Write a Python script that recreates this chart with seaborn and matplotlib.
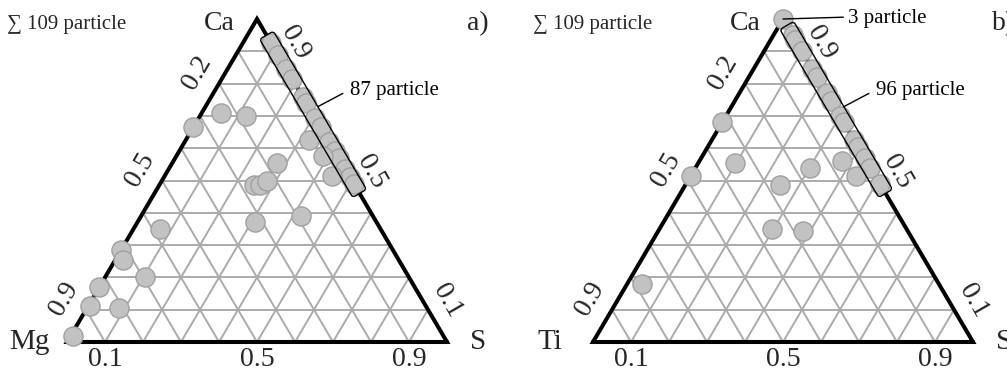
import numpy as np
import pandas as pd
import seaborn as sns
import matplotlib.pyplot as plt
from matplotlib.patches import FancyBboxPatch
from matplotlib.transforms import Affine2D

# ---- composition data (mole fractions) ----
# panel a): Ca - Mg - S
a_ca = [0.925, 0.89, 0.845, 0.815, 0.76, 0.74, 0.695, 0.665, 0.62, 0.59, 0.57, 0.535, 0.51, 0.49,
        0.625, 0.575, 0.515,
        0.71, 0.70, 0.665, 0.555, 0.485, 0.485, 0.50, 0.37, 0.39,
        0.35, 0.285, 0.255, 0.20, 0.17, 0.11, 0.105, 0.02]
a_mg = [0.0, 0.0, 0.0, 0.0, 0.0, 0.0, 0.0, 0.0, 0.0, 0.0, 0.0, 0.0, 0.0, 0.0,
        0.05, 0.04, 0.045,
        0.24, 0.18, 0.335, 0.17, 0.265, 0.25, 0.225, 0.32, 0.19,
        0.58, 0.715, 0.725, 0.695, 0.83, 0.885, 0.81, 0.975]
a_s = [0.075, 0.11, 0.155, 0.185, 0.24, 0.26, 0.305, 0.335, 0.38, 0.41, 0.43, 0.465, 0.49, 0.51,
       0.325, 0.385, 0.44,
       0.05, 0.12, 0.0, 0.275, 0.25, 0.265, 0.275, 0.31, 0.42,
       0.07, 0.0, 0.02, 0.105, 0.0, 0.005, 0.085, 0.005]

# panel b): Ca - Ti - S
b_ca = [1.0,
        0.95, 0.935, 0.90, 0.845, 0.82, 0.77, 0.745, 0.70, 0.68, 0.625, 0.605, 0.57, 0.54, 0.49,
        0.56, 0.515,
        0.68, 0.515, 0.18, 0.555, 0.485, 0.54, 0.35, 0.345]
b_ti = [0.0,
        0.0, 0.0, 0.0, 0.0, 0.0, 0.0, 0.0, 0.0, 0.0, 0.0, 0.0, 0.0, 0.0, 0.0,
        0.065, 0.05,
        0.32, 0.485, 0.78, 0.35, 0.265, 0.16, 0.355, 0.275]
b_s = [0.0,
       0.05, 0.065, 0.10, 0.155, 0.18, 0.23, 0.255, 0.30, 0.32, 0.375, 0.395, 0.43, 0.46, 0.51,
       0.375, 0.435,
       0.0, 0.0, 0.04, 0.095, 0.25, 0.30, 0.295, 0.38]

left_ticks = [0.2, 0.5, 0.9]     # second component, along the left edge
right_ticks = [0.9, 0.5, 0.1]    # Ca, along the right edge
bottom_ticks = [0.1, 0.5, 0.9]   # S, along the base

sns.set_theme(style="white")
plt.rcParams["font.family"] = ["Liberation Serif", "DejaVu Serif"]

W, HP = 1007, 372
fig = plt.figure(figsize=(W / 100, HP / 100), dpi=100)

H = 323 / 380           # triangle height in base units
L = np.hypot(0.5, H)    # side length of the slanted edges
EDGE_ANGLE = np.degrees(np.arctan2(-H, 0.5))
d_vec = np.array([0.5, -H]) / L      # apex -> S corner
n_vec = np.array([H, 0.5]) / L       # outward normal of the right edge


def to_xy(ca, s):
    ca = np.asarray(ca, float)
    s = np.asarray(s, float)
    return s + ca / 2, ca * H


panels = [
    dict(left=67, corner="Mg", ca=a_ca, other=a_mg, s=a_s, tag="a)",
         box=(0.95, 0.46), box_label="87 particle", corner_pad=17, total="∑ 109 particle"),
    dict(left=593, corner="Ti", ca=b_ca, other=b_ti, s=b_s, tag="b)",
         box=(0.98, 0.46), box_label="96 particle", corner_pad=31, total="∑ 109 particle",
         apex_label="3 particle"),
]

grid_color = "#ababab"
tick_fs = 20
small_fs = 15

for p in panels:
    ax = fig.add_axes([p["left"] / W, 30 / HP, 380 / W, 323 / HP])

    # grid lines every 0.1
    for k in range(1, 10):
        f = k / 10
        for (ca0, s0), (ca1, s1) in [((f, 0), (f, 1 - f)),
                                     ((0, f), (1 - f, f)),
                                     ((0, 1 - f), (1 - f, 0))]:
            x, y = to_xy([ca0, ca1], [s0, s1])
            ax.plot(x, y, color=grid_color, lw=1.4, zorder=1, clip_on=False)

    # triangle frame
    ax.plot([0, 1, 0.5, 0, 1], [0, 0, H, 0, 0], color="black", lw=2.9,
            solid_joinstyle="miter", zorder=2, clip_on=False)

    # particles
    x, y = to_xy(p["ca"], p["s"])
    df = pd.DataFrame({"x": x, "y": y})
    sns.scatterplot(data=df, x="x", y="y", ax=ax, s=190, color="#c2c2c2",
                    edgecolor="#a0a0a0", linewidth=1.0, zorder=3, legend=False,
                    clip_on=False)

    # rounded box around the particles lying on the Ca-S edge
    u0 = (1 - p["box"][0]) * L
    u1 = (1 - p["box"][1]) * L
    v0, v1 = -0.021, 0.021
    box = FancyBboxPatch((u0, v0), u1 - u0, v1 - v0,
                         boxstyle="round,pad=0,rounding_size=0.008",
                         fc="none", ec="black", lw=1.0, zorder=4, clip_on=False,
                         transform=Affine2D().rotate_deg(EDGE_ANGLE).translate(0.5, H) + ax.transData)
    ax.add_patch(box)

    anchor = np.array([0.5, H]) + 0.28 * d_vec + v1 * n_vec
    ax.annotate(p["box_label"], xy=anchor, xytext=(32, 16), textcoords="offset pixels",
                ha="left", va="center", fontsize=small_fs, color="black",
                arrowprops=dict(arrowstyle="-", color="black", lw=1.0,
                                shrinkA=3, shrinkB=0, relpos=(0, 0.55)))

    if "apex_label" in p:
        ax.annotate(p["apex_label"], xy=(0.5, H), xytext=(65, 1), textcoords="offset pixels",
                    ha="left", va="center", fontsize=small_fs, color="black",
                    arrowprops=dict(arrowstyle="-", color="black", lw=1.0,
                                    shrinkA=1, shrinkB=0, relpos=(0, 0.55)))

    # corner labels
    ax.annotate("Ca", xy=(0.5, H), xytext=(-22, -4), textcoords="offset pixels",
                ha="right", va="center", fontsize=tick_fs)
    ax.annotate(p["corner"], xy=(0, 0), xytext=(-p["corner_pad"], 0), textcoords="offset pixels",
                ha="right", va="center", fontsize=tick_fs + 1)
    ax.annotate("S", xy=(1, 0), xytext=(23, 0), textcoords="offset pixels",
                ha="left", va="center", fontsize=tick_fs + 1)

    # edge tick labels
    for v in left_ticks:
        ca = 1 - v
        ax.annotate(f"{v:.1f}", xy=(ca / 2, ca * H), xytext=(-22, 11), textcoords="offset pixels",
                    ha="center", va="center", rotation=60, rotation_mode="anchor", fontsize=tick_fs)
    for v in right_ticks:
        ax.annotate(f"{v:.1f}", xy=(1 - v / 2, v * H), xytext=(19, 9), textcoords="offset pixels",
                    ha="center", va="center", rotation=-60, rotation_mode="anchor", fontsize=tick_fs)
    for v in bottom_ticks:
        ax.annotate(f"{v:.1f}", xy=(v, 0), xytext=(0, -17), textcoords="offset pixels",
                    ha="center", va="center", fontsize=tick_fs)

    # totals and panel tag
    ax.annotate(p["total"], xy=(0, H), xytext=(-60, -6), textcoords="offset pixels",
                ha="left", va="center", fontsize=small_fs)
    ax.annotate(p["tag"], xy=(1, H), xytext=(31, -5), textcoords="offset pixels",
                ha="center", va="center", fontsize=20)

    ax.set_xlim(0, 1)
    ax.set_ylim(0, H)
    ax.set_axis_off()

fig.savefig("out.png", dpi=100)
